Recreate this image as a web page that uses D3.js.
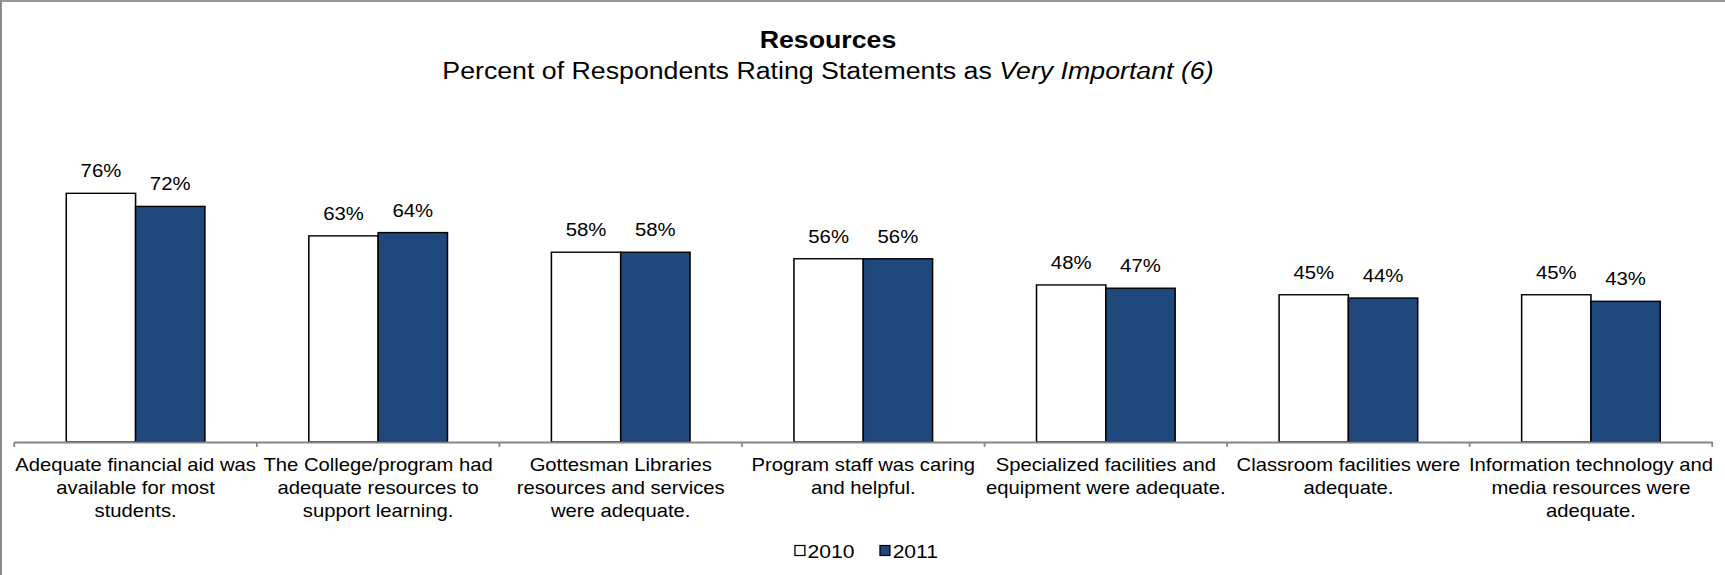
<!DOCTYPE html>
<html>
<head>
<meta charset="utf-8">
<script src="https://cdn.jsdelivr.net/npm/d3@7"></script>
<style>
  html, body { margin: 0; padding: 0; background: #fff; }
  svg { display: block; }
  text { font-family: Arial, "Liberation Sans", sans-serif; fill: #000; }
</style>
</head>
<body>
<div id="chart"></div>
<script>
// Survey statements (each entry is the wrapped lines of the category label)
const categories = [
  ["Adequate financial aid was", "available for most", "students."],
  ["The College/program had", "adequate resources to", "support learning."],
  ["Gottesman Libraries", "resources and services", "were adequate."],
  ["Program staff was caring", "and helpful."],
  ["Specialized facilities and", "equipment were adequate."],
  ["Classroom facilities were", "adequate."],
  ["Information technology and", "media resources were", "adequate."]
];
const seriesNames = ["2010", "2011"];
const values2010 = [76, 63, 58, 56, 48, 45, 45];
const values2011 = [72, 64, 58, 56, 47, 44, 43];

const W = 1725, H = 575;
const VW = 1568.2; // drawing width before the horizontal stretch to W
const colors = { "2010": "#ffffff", "2011": "#1f497d" };

const keys = categories.map((c, i) => "c" + i);
const rows = keys.map((k, i) => ({ key: k, lines: categories[i], "2010": values2010[i], "2011": values2011[i] }));

const svg = d3.select("#chart").append("svg")
  .attr("width", W).attr("height", H)
  .attr("viewBox", `0 0 ${VW} ${H}`)
  .attr("preserveAspectRatio", "none");

// chart frame (top and left edges visible)
svg.append("rect")
  .attr("x", 0.9).attr("y", 1).attr("width", VW + 10).attr("height", H + 10)
  .attr("fill", "none").attr("stroke", "#8a8a8a").attr("stroke-width", 1.8);

const baseY = 442;
const x = d3.scaleBand().domain(keys).range([13, 1556.6]).paddingInner(0).paddingOuter(0);
const xs = d3.scaleBand().domain(seriesNames).range([0, x.bandwidth()]).paddingInner(0).paddingOuter(0.75);
const y = d3.scaleLinear().domain([0, 100]).range([baseY, 114.8]);

// titles
svg.append("text")
  .attr("x", 752.7).attr("y", 48.5)
  .attr("text-anchor", "middle")
  .style("font-size", "24.3px").style("font-weight", "bold")
  .text("Resources");
const sub = svg.append("text")
  .attr("x", 752.7).attr("y", 79.5)
  .attr("text-anchor", "middle")
  .style("font-size", "24.3px");
sub.append("tspan").text("Percent of Respondents Rating Statements as ");
sub.append("tspan").style("font-style", "italic").text("Very Important (6)");

// bars
const groups = svg.append("g").selectAll("g")
  .data(rows).join("g")
  .attr("transform", d => `translate(${x(d.key)},0)`);

groups.selectAll("rect")
  .data(d => seriesNames.map(s => ({ s, v: d[s] })))
  .join("rect")
  .attr("x", d => xs(d.s))
  .attr("width", xs.bandwidth())
  .attr("y", d => y(d.v))
  .attr("height", d => baseY - y(d.v))
  .attr("fill", d => colors[d.s])
  .attr("stroke", "#000")
  .attr("stroke-width", 1.4);

// value labels
groups.selectAll("text.val")
  .data(d => seriesNames.map(s => ({ s, v: d[s] })))
  .join("text")
  .attr("class", "val")
  .attr("x", d => xs(d.s) + xs.bandwidth() / 2)
  .attr("y", d => y(d.v) - 16)
  .attr("text-anchor", "middle")
  .style("font-size", "18.5px")
  .text(d => d.v + "%");

// category axis
const axis = d3.axisBottom(x).tickSize(0).tickFormat("");
const axG = svg.append("g").attr("transform", `translate(0,${baseY})`).call(axis);
axG.select(".domain").attr("stroke", "#868686").attr("stroke-width", 1.8);
const bounds = keys.map(k => x(k)).concat([x(keys[keys.length - 1]) + x.bandwidth()]);
axG.selectAll("line.bound")
  .data(bounds).join("line")
  .attr("class", "bound")
  .attr("x1", d => d).attr("x2", d => d)
  .attr("y1", 0).attr("y2", 5)
  .attr("stroke", "#868686").attr("stroke-width", 1.6);

const labels = svg.append("g").selectAll("text")
  .data(rows).join("text")
  .attr("text-anchor", "middle")
  .style("font-size", "18.4px");
labels.selectAll("tspan")
  .data(d => d.lines.map(l => ({ l, cx: x(d.key) + x.bandwidth() / 2 })))
  .join("tspan")
  .attr("x", d => d.cx)
  .attr("y", (d, i) => 471.5 + i * 23)
  .text(d => d.l);

// legend
const legend = svg.append("g").attr("transform", "translate(722.7,551)");
const li = legend.selectAll("g").data(seriesNames).join("g")
  .attr("transform", (d, i) => `translate(${i * 77.3},0)`);
li.append("rect")
  .attr("x", 0).attr("y", -5.5).attr("width", 9).attr("height", 10)
  .attr("fill", d => colors[d]).attr("stroke", "#000").attr("stroke-width", 1.2);
li.append("text")
  .attr("x", 11.5).attr("y", 7)
  .style("font-size", "19.2px")
  .text(d => d);
</script>
</body>
</html>
